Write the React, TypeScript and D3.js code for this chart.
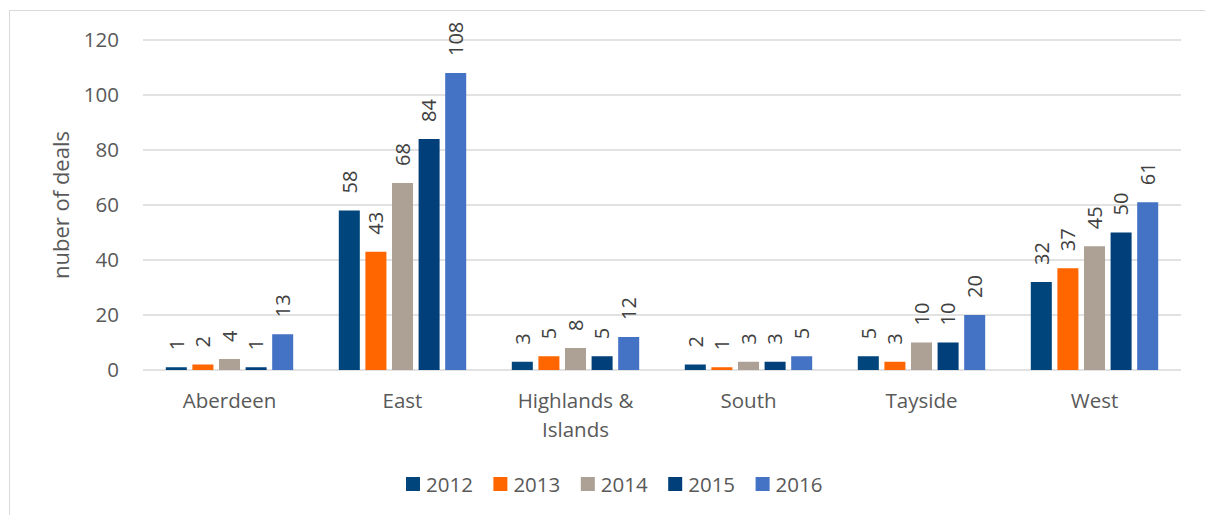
import React from "react";
import * as d3 from "d3";

const categories = ["Aberdeen", "East", "Highlands & Islands", "South", "Tayside", "West"];
const categoryLines = [["Aberdeen"], ["East"], ["Highlands &", "Islands"], ["South"], ["Tayside"], ["West"]];
const seriesNames = ["2012", "2013", "2014", "2015", "2016"];
const seriesColors = ["#00457C", "#FF6600", "#ADA094", "#003F7A", "#4472C4"];
const values2012 = [1, 58, 3, 2, 5, 32];
const values2013 = [2, 43, 5, 1, 3, 37];
const values2014 = [4, 68, 8, 3, 10, 45];
const values2015 = [1, 84, 5, 3, 10, 50];
const values2016 = [13, 108, 12, 5, 20, 61];
const yTicks = [0, 20, 40, 60, 80, 100, 120];
const yTitle = "nuber of deals";

const seriesValues = [values2012, values2013, values2014, values2015, values2016];

const W = 1205;
const H = 515;
const FONT = "'Open Sans', 'Noto Sans', sans-serif";

export default function App() {
  const x0 = d3.scaleBand<string>().domain(categories).range([143, 1181]).paddingInner(0).paddingOuter(0);
  const x1 = d3
    .scaleBand<string>()
    .domain(seriesNames)
    .range([0, x0.bandwidth()])
    .paddingInner(0.21)
    .paddingOuter(0.857);
  const y = d3.scaleLinear().domain([0, 120]).range([370, 40]);

  const legendX = d3.scaleBand<string>().domain(seriesNames).range([406, 843]);

  return (
    <svg width={W} height={H} style={{ position: "absolute", left: 0, top: 0, background: "#fff" }}>
      <rect x={9.5} y={10.5} width={W} height={H} fill="#fff" stroke="#D9D9D9" strokeWidth={1} />
      {yTicks.map((t) => (
        <g key={t}>
          <line x1={143} x2={1181} y1={y(t)} y2={y(t)} stroke="#D9D9D9" strokeWidth={1.3} />
          <text x={119} y={y(t)} dy="0.36em" textAnchor="end" fontFamily={FONT} fontSize={20.5} fill="#595959">
            {t}
          </text>
        </g>
      ))}
      <text
        transform={`translate(69, ${(y(0) + y(120)) / 2}) rotate(-90)`}
        textAnchor="middle"
        fontFamily={FONT}
        fontSize={22}
        fill="#595959"
      >
        {yTitle}
      </text>
      {categories.map((c, ci) => (
        <g key={c} transform={`translate(${x0(c)},0)`}>
          {seriesNames.map((s, si) => {
            const v = seriesValues[si][ci];
            const bx = x1(s)!;
            const bw = x1.bandwidth();
            return (
              <g key={s}>
                <rect x={bx} y={y(v)} width={bw} height={y(0) - y(v)} fill={seriesColors[si]} />
                <text
                  transform={`translate(${bx + bw / 2}, ${y(v) - 17}) rotate(-90)`}
                  dy="0.36em"
                  textAnchor="start"
                  fontFamily={FONT}
                  fontSize={20}
                  fill="#404040"
                >
                  {v}
                </text>
              </g>
            );
          })}
          <text textAnchor="middle" fontFamily={FONT} fontSize={20.5} fill="#595959">
            {categoryLines[ci].map((ln, li) => (
              <tspan key={li} x={x0.bandwidth() / 2} y={408 + li * 29}>
                {ln}
              </tspan>
            ))}
          </text>
        </g>
      ))}
      {seriesNames.map((s, si) => (
        <g key={s} transform={`translate(${legendX(s)},0)`}>
          <rect x={0} y={477} width={14} height={14} fill={seriesColors[si]} />
          <text x={20} y={491.5} fontFamily={FONT} fontSize={20.5} fill="#595959">
            {s}
          </text>
        </g>
      ))}
    </svg>
  );
}
